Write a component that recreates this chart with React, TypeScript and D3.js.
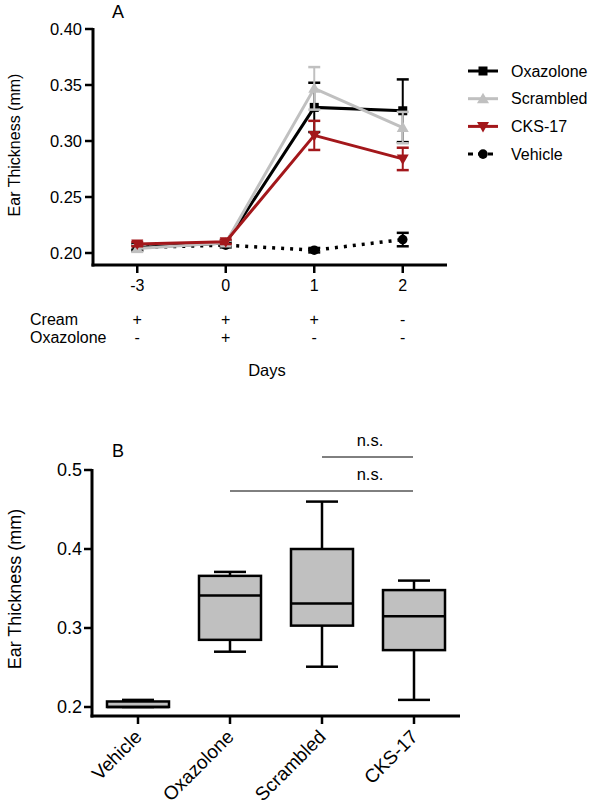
import React from "react";
import * as d3 from "d3";

// ---------- Panel A data ----------
const days = ["-3", "0", "1", "2"];
const seriesNames = ["Oxazolone", "Scrambled", "CKS-17", "Vehicle"];
const oxazoloneMean = [0.205, 0.209, 0.33, 0.327];
const oxazoloneErr = [0.003, 0.002, 0.022, 0.028];
const scrambledMean = [0.204, 0.209, 0.347, 0.312];
const scrambledErr = [0.003, 0.002, 0.019, 0.014];
const cksMean = [0.208, 0.21, 0.305, 0.284];
const cksErr = [0.002, 0.002, 0.013, 0.01];
const vehicleMean = [0.205, 0.207, 0.2025, 0.212];
const vehicleErr = [0.002, 0.002, 0.002, 0.006];
const creamRow = ["+", "+", "+", "-"];
const oxaRow = ["-", "+", "-", "-"];
const yTicksA = [0.2, 0.25, 0.3, 0.35, 0.4];

// ---------- Panel B data ----------
const boxCategories = ["Vehicle", "Oxazolone", "Scrambled", "CKS-17"];
const boxMin = [0.2, 0.27, 0.251, 0.209];
const boxQ1 = [0.2, 0.285, 0.303, 0.272];
const boxMedian = [0.2, 0.341, 0.331, 0.315];
const boxQ3 = [0.207, 0.366, 0.4, 0.348];
const boxMax = [0.209, 0.371, 0.46, 0.36];
const yTicksB = [0.2, 0.3, 0.4, 0.5];
const sigLabels = ["n.s.", "n.s."];
const sigFrom = ["Scrambled", "Oxazolone"];
const sigTo = ["CKS-17", "CKS-17"];

const FONT = "'Liberation Sans', Arial, sans-serif";
const RED = "#a3171b";
const GREY = "#c0c0c0";

type Series = { name: string; mean: number[]; err: number[]; color: string; marker: string; dash?: string };

const series: Series[] = [
  { name: seriesNames[3], mean: vehicleMean, err: vehicleErr, color: "#000", marker: "circle", dash: "3,6" },
  { name: seriesNames[0], mean: oxazoloneMean, err: oxazoloneErr, color: "#000", marker: "square" },
  { name: seriesNames[1], mean: scrambledMean, err: scrambledErr, color: GREY, marker: "triUp" },
  { name: seriesNames[2], mean: cksMean, err: cksErr, color: RED, marker: "triDown" },
];

function Marker({ type, x, y, color }: { type: string; x: number; y: number; color: string }) {
  if (type === "square") return <rect x={x - 4.5} y={y - 4.5} width={9} height={9} fill={color} />;
  if (type === "circle") return <circle cx={x} cy={y} r={4.8} fill={color} />;
  if (type === "triUp")
    return <path d={`M${x},${y - 6} L${x + 6},${y + 4.5} L${x - 6},${y + 4.5} Z`} fill={color} />;
  return <path d={`M${x},${y + 6} L${x + 6},${y - 4.5} L${x - 6},${y - 4.5} Z`} fill={color} />;
}

export default function App() {
  // Panel A scales
  const xA = d3.scalePoint<string>().domain(days).range([93, 447]).padding(0.5);
  const yA = d3.scaleLinear().domain([0.2, 0.4]).range([253, 29]);
  const axisYA = 265;
  const fmtA = d3.format(".2f");

  // Panel B scales
  const xB = d3.scalePoint<string>().domain(boxCategories).range([92, 460]).padding(0.5);
  const yB = d3.scaleLinear().domain([0.2, 0.5]).range([707, 470]);
  const axisYB = 716;
  const fmtB = d3.format(".1f");
  const boxW = 62;
  const capW = 32;

  const sigY = [457, 491];

  return (
    <svg width={600} height={807} style={{ position: "absolute", left: 0, top: 0 }} fontFamily={FONT}>
      <rect width={600} height={807} fill="#fff" />
      {/* ============ Panel A ============ */}
      <text x={118} y={18} fontSize={18} textAnchor="middle">A</text>
      <text transform={`translate(20,145) rotate(-90)`} fontSize={16} textAnchor="middle">Ear Thickness (mm)</text>
      {/* axes */}
      <line x1={93} x2={93} y1={28} y2={axisYA + 1.5} stroke="#000" strokeWidth={3} />
      <line x1={91.5} x2={447} y1={axisYA} y2={axisYA} stroke="#000" strokeWidth={3} />
      {yTicksA.map((t) => (
        <g key={t}>
          <line x1={85} x2={93} y1={yA(t)} y2={yA(t)} stroke="#000" strokeWidth={2.5} />
          <text x={82} y={yA(t)} dy="0.35em" fontSize={16.5} textAnchor="end">{fmtA(t)}</text>
        </g>
      ))}
      {days.map((d, i) => (
        <g key={d}>
          <line x1={xA(d)} x2={xA(d)} y1={axisYA} y2={axisYA + 8} stroke="#000" strokeWidth={2.5} />
          <text x={xA(d)} y={285} dy="0.35em" fontSize={16} textAnchor="middle">{d}</text>
          <text x={xA(d)} y={319} dy="0.35em" fontSize={16} textAnchor="middle">{creamRow[i]}</text>
          <text x={xA(d)} y={337} dy="0.35em" fontSize={16} textAnchor="middle">{oxaRow[i]}</text>
        </g>
      ))}
      <text x={30} y={319} dy="0.35em" fontSize={16}>Cream</text>
      <text x={30} y={337} dy="0.35em" fontSize={16}>Oxazolone</text>
      <text x={267} y={370} dy="0.35em" fontSize={16.5} textAnchor="middle">Days</text>

      {/* series */}
      {series.map((s) => {
        const line = d3
          .line<number>()
          .x((_, i) => xA(days[i]) as number)
          .y((v) => yA(v));
        return (
          <g key={s.name}>
            <path d={line(s.mean) || ""} fill="none" stroke={s.color} strokeWidth={s.dash ? 3.5 : 3}
              strokeDasharray={s.dash} />
            {s.mean.map((v, i) => {
              const cx = xA(days[i]) as number;
              const top = yA(v + s.err[i]);
              const bot = yA(v - s.err[i]);
              return (
                <g key={i}>
                  <line x1={cx} x2={cx} y1={top} y2={bot} stroke={s.color} strokeWidth={2} />
                  <line x1={cx - 6} x2={cx + 6} y1={top} y2={top} stroke={s.color} strokeWidth={2.5} />
                  <line x1={cx - 6} x2={cx + 6} y1={bot} y2={bot} stroke={s.color} strokeWidth={2.5} />
                  <Marker type={s.marker} x={cx} y={yA(v)} color={s.color} />
                </g>
              );
            })}
          </g>
        );
      })}

      {/* legend */}
      {[series[1], series[2], series[3], series[0]].map((s, i) => {
        const ly = 71 + i * 27.7;
        return (
          <g key={s.name}>
            <line x1={468} x2={498} y1={ly} y2={ly} stroke={s.color} strokeWidth={3}
              strokeDasharray={s.dash ? "5,5" : undefined} />
            <Marker type={s.marker} x={483} y={ly} color={s.color} />
            <text x={511} y={ly} dy="0.35em" fontSize={16}>{s.name}</text>
          </g>
        );
      })}

      {/* ============ Panel B ============ */}
      <text x={118} y={457} fontSize={18} textAnchor="middle">B</text>
      <text transform={`translate(21,589) rotate(-90)`} fontSize={18} textAnchor="middle">Ear Thickness (mm)</text>
      <line x1={92} x2={92} y1={469} y2={axisYB + 1.5} stroke="#000" strokeWidth={3} />
      <line x1={90.5} x2={460} y1={axisYB} y2={axisYB} stroke="#000" strokeWidth={3} />
      {yTicksB.map((t) => (
        <g key={t}>
          <line x1={84} x2={92} y1={yB(t)} y2={yB(t)} stroke="#000" strokeWidth={2.5} />
          <text x={82} y={yB(t)} dy="0.35em" fontSize={18} textAnchor="end">{fmtB(t)}</text>
        </g>
      ))}
      {boxCategories.map((c, i) => {
        const cx = xB(c) as number;
        return (
          <g key={c}>
            <line x1={cx} x2={cx} y1={axisYB} y2={axisYB + 8} stroke="#000" strokeWidth={2.5} />
            <text transform={`translate(${cx + 5},${axisYB + 22}) rotate(-45)`} fontSize={19} textAnchor="end">{c}</text>
            {/* whiskers */}
            <line x1={cx} x2={cx} y1={yB(boxMax[i])} y2={yB(boxQ3[i])} stroke="#000" strokeWidth={2.5} />
            <line x1={cx} x2={cx} y1={yB(boxQ1[i])} y2={yB(boxMin[i])} stroke="#000" strokeWidth={2.5} />
            <line x1={cx - capW / 2} x2={cx + capW / 2} y1={yB(boxMax[i])} y2={yB(boxMax[i])} stroke="#000" strokeWidth={2.5} />
            <line x1={cx - capW / 2} x2={cx + capW / 2} y1={yB(boxMin[i])} y2={yB(boxMin[i])} stroke="#000" strokeWidth={2.5} />
            <rect x={cx - boxW / 2} y={yB(boxQ3[i])} width={boxW} height={yB(boxQ1[i]) - yB(boxQ3[i])}
              fill={GREY} stroke="#000" strokeWidth={2.5} />
            <line x1={cx - boxW / 2} x2={cx + boxW / 2} y1={yB(boxMedian[i])} y2={yB(boxMedian[i])} stroke="#000" strokeWidth={2.5} />
          </g>
        );
      })}
      {sigLabels.map((l, i) => {
        const x1 = xB(sigFrom[i]) as number;
        const x2 = (xB(sigTo[i]) as number) - 1;
        return (
          <g key={i}>
            <line x1={x1} x2={x2} y1={sigY[i]} y2={sigY[i]} stroke="#000" strokeWidth={1} />
            <text x={370} y={sigY[i] - 17} dy="0.35em" fontSize={16.5} textAnchor="middle">{l}</text>
          </g>
        );
      })}
    </svg>
  );
}
